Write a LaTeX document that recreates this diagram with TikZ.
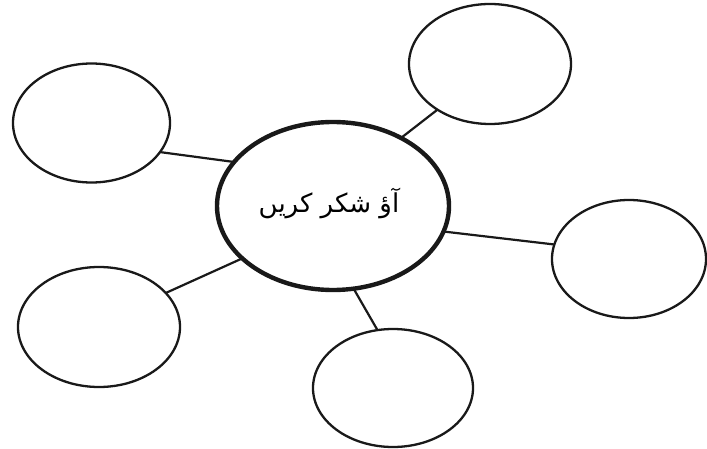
\documentclass[tikz,border=0pt]{standalone}
\usepackage{fontspec}
\usetikzlibrary{shapes.geometric}
\TeXXeTstate=1
\newfontfamily\urdufont[Script=Arabic]{DejaVu Sans}
\begin{document}
\begin{tikzpicture}[x=1pt,y=-1pt,
  bubble/.style={ellipse,draw=black!90,line width=2.3pt,inner sep=0pt,outer sep=0pt},
  hub/.style={ellipse,draw=black!90,line width=4.4pt,inner sep=0pt,outer sep=0pt,minimum width=232pt,minimum height=168pt},
  link/.style={draw=black!90,line width=2.2pt}]
\useasboundingbox (0,0) rectangle (707,449);
\node[hub] (c) at (333,206) {};
\node[font=\urdufont\fontsize{26}{30}\selectfont] (t) at (329,203) {\beginR آؤ شکر کریں\endR};
\node[bubble,minimum width=157pt,minimum height=119pt] (a1) at (91.5,123) {};
\node[bubble,minimum width=162pt,minimum height=120pt] (a2) at (490,64) {};
\node[bubble,minimum width=154pt,minimum height=118pt] (a3) at (629,259) {};
\node[bubble,minimum width=162pt,minimum height=120pt] (a4) at (99,327) {};
\node[bubble,minimum width=160pt,minimum height=118pt] (a5) at (393,388) {};
\draw[link] (a1.-23.4) -- (c.156.9);
\draw[link] (a2.221.5) -- (c.45.4);
\draw[link] (a3.169.7) -- (c.-13.3);
\draw[link] (a4.27.2) -- (c.210.7);
\draw[link] (a5.105.4) -- (c.-76.9);
\end{tikzpicture}
\end{document}
